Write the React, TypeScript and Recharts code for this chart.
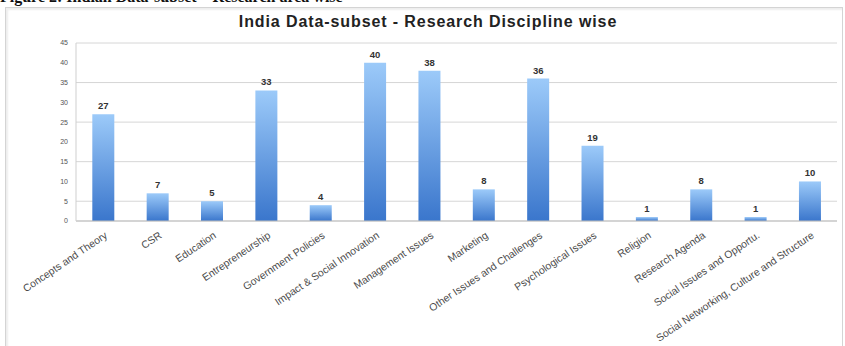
import { BarChart, Bar, XAxis, YAxis, CartesianGrid, LabelList } from 'recharts';

const disciplines = [
  'Concepts and Theory',
  'CSR',
  'Education',
  'Entrepreneurship',
  'Government Policies',
  'Impact & Social Innovation',
  'Management Issues',
  'Marketing',
  'Other Issues and Challenges',
  'Psychological Issues',
  'Religion',
  'Research Agenda',
  'Social Issues and Opportu.',
  'Social Networking, Culture and Structure',
];

const counts = [27, 7, 5, 33, 4, 40, 38, 8, 36, 19, 1, 8, 1, 10];

const yTicks = [0, 5, 10, 15, 20, 25, 30, 35, 40, 45];

const data = disciplines.map((name, i) => ({ name, count: counts[i] }));

function SlantTick(props: any) {
  const { x, y, payload } = props;
  return (
    <text
      x={x + 5}
      y={y + 8}
      transform={`rotate(-34, ${x + 5}, ${y + 8})`}
      textAnchor="end"
      fontSize={10.4}
      fill="#4a4a4a"
      fontFamily="'Liberation Sans', Arial, sans-serif"
    >
      {payload.value}
    </text>
  );
}

export default function App() {
  return (
    <div style={{ position: 'absolute', left: 0, top: 0, width: 845, height: 346, background: '#fff', overflow: 'hidden' }}>
      {/* figure caption, cut off at the top edge as in the scan */}
      <div
        style={{
          position: 'absolute',
          left: 0,
          top: -12,
          fontFamily: "'Liberation Serif', serif",
          fontWeight: 'bold',
          fontSize: 16,
          color: '#111',
          whiteSpace: 'nowrap',
        }}
      >
        Figure 2: Indian Data-subset – Research area wise
      </div>
      <div
        style={{
          position: 'absolute',
          left: 5,
          top: 7,
          width: 836,
          height: 345,
          border: '1px solid #d4d4d4',
          boxShadow: 'inset 2px 2px 2px #eee',
        }}
      />
      <div
        style={{
          position: 'absolute',
          left: 0,
          width: 856,
          top: 13,
          textAlign: 'center',
          fontFamily: "'Liberation Sans', Arial, sans-serif",
          fontWeight: 'bold',
          fontSize: 16,
          letterSpacing: 0.9,
          color: '#222',
        }}
      >
        India Data-subset - Research Discipline wise
      </div>
      <div style={{ position: 'absolute', left: 0, top: 0 }}>
        <BarChart
          width={845}
          height={346}
          data={data}
          margin={{ top: 43, right: 8, left: 56, bottom: 5 }}
          barCategoryGap="30%"
        >
          <defs>
            <linearGradient id="barFill" x1="0" y1="0" x2="0" y2="1">
              <stop offset="0%" stopColor="#9ccaf9" />
              <stop offset="100%" stopColor="#3a76cc" />
            </linearGradient>
          </defs>
          <CartesianGrid vertical={false} stroke="#d6d6d6" />
          <XAxis
            dataKey="name"
            interval={0}
            height={120}
            tick={<SlantTick />}
            tickLine={false}
            axisLine={{ stroke: '#bdbdbd' }}
          />
          <YAxis
            width={20}
            domain={[0, 45]}
            ticks={yTicks}
            tick={{ fontSize: 7, fill: '#555', fontFamily: "'Liberation Sans', Arial, sans-serif" }}
            tickLine={false}
            axisLine={{ stroke: '#cfcfcf' }}
          />
          <Bar dataKey="count" fill="url(#barFill)" isAnimationActive={false}>
            <LabelList
              dataKey="count"
              position="top"
              offset={5}
              style={{ fontSize: 9.5, fontWeight: 'bold', fill: '#333', fontFamily: "'Liberation Sans', Arial, sans-serif" }}
            />
          </Bar>
        </BarChart>
      </div>
    </div>
  );
}
